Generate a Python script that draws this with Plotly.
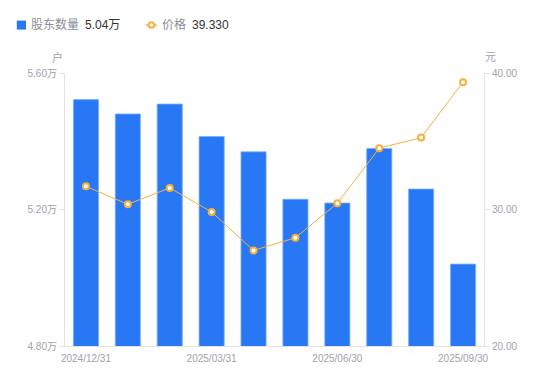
import plotly.graph_objects as go

dates = ["2024/12/31", "2025/01/31", "2025/02/28", "2025/03/31", "2025/04/30",
         "2025/05/31", "2025/06/30", "2025/07/31", "2025/08/31", "2025/09/30"]
holders = [5.522, 5.480, 5.509, 5.414, 5.369, 5.230, 5.219, 5.379, 5.260, 5.040]  # 万户
price = [31.70, 30.38, 31.58, 29.82, 27.00, 27.93, 30.46, 34.49, 35.27, 39.33]   # 元
xtick_labels = ["2024/12/31", "2025/03/31", "2025/06/30", "2025/09/30"]
left_ticks = [4.80, 5.20, 5.60]
right_ticks = [20, 30, 40]

BLUE = "#2878f5"
ORANGE = "#f7b03c"
GRAY = "#a0a1ae"
AXIS = "#e3e3e6"
FONT = "Liberation Sans, Noto Sans CJK SC, sans-serif"

# the page body adds an 8px offset; size the figure so the visible frame matches
OFF = 8
W, H = 550 - OFF, 381 - OFF
ML, MT = 65 - OFF, 73 - OFF
MR, MB = 66, 35
PW, PH = W - ML - MR, H - MT - MB


def px(x):
    return (x - OFF - ML) / PW


def py(y):
    return (H - MB - (y - OFF)) / PH


fig = go.Figure()
fig.add_trace(go.Bar(
    x=dates, y=holders, name="股东数量", width=0.6,
    marker=dict(color=BLUE, line=dict(color="#7eaef7", width=0.8)),
    yaxis="y", showlegend=False,
))
fig.add_trace(go.Scatter(
    x=dates, y=price, name="价格", mode="lines+markers",
    line=dict(color=ORANGE, width=1),
    marker=dict(symbol="circle", size=6, color="white", line=dict(color=ORANGE, width=2)),
    yaxis="y2", showlegend=False,
))

# custom legend
shapes = [
    dict(type="rect", xref="paper", yref="paper",
         x0=px(16.8), x1=px(26), y0=py(29.6), y1=py(20.6),
         fillcolor=BLUE, line=dict(width=0)),
    dict(type="line", xref="paper", yref="paper",
         x0=px(146), x1=px(156.7), y0=py(25), y1=py(25),
         line=dict(color=ORANGE, width=1.5)),
    dict(type="circle", xref="paper", yref="paper",
         x0=px(148.6), x1=px(154.2), y0=py(27.8), y1=py(22.2),
         fillcolor="white", line=dict(color=ORANGE, width=2)),
]

annotations = [
    dict(text="股东数量", x=px(30), y=py(25), xanchor="left", yanchor="middle",
         font=dict(size=12, color="#8c8d99")),
    dict(text="5.04万", x=px(84), y=py(25), xanchor="left", yanchor="middle",
         font=dict(size=12, color="#333333")),
    dict(text="价格", x=px(161), y=py(25), xanchor="left", yanchor="middle",
         font=dict(size=12, color="#8c8d99")),
    dict(text="39.330", x=px(191), y=py(25), xanchor="left", yanchor="middle",
         font=dict(size=12, color="#333333")),
    dict(text="户", x=px(57.5), y=py(57), xanchor="center", yanchor="middle",
         font=dict(size=11, color=GRAY)),
    dict(text="元", x=px(490.5), y=py(57.5), xanchor="center", yanchor="middle",
         font=dict(size=11, color=GRAY)),
]
for a in annotations:
    a.update(xref="paper", yref="paper", showarrow=False, borderpad=0)

fig.update_layout(
    width=W, height=H,
    margin=dict(l=ML, r=MR, t=MT, b=MB, pad=0),
    paper_bgcolor="white", plot_bgcolor="white",
    font=dict(family=FONT, size=10, color=GRAY),
    showlegend=False,
    bargap=0.4,
    xaxis=dict(
        type="category", tickmode="array", tickvals=xtick_labels, ticktext=xtick_labels,
        showgrid=False, showline=True, linecolor=AXIS, linewidth=1,
        ticks="", tickfont=dict(size=10, color=GRAY), zeroline=False,
        range=[-0.5, len(dates) - 0.5], ticklabelstandoff=3,
    ),
    yaxis=dict(
        range=[4.80, 5.60], tickmode="array", tickvals=left_ticks,
        ticktext=[f"{v:.2f}万" for v in left_ticks],
        showgrid=False, showline=True, linecolor=AXIS, linewidth=1,
        ticks="outside", ticklen=5, tickcolor=AXIS, zeroline=False,
        tickfont=dict(size=10, color=GRAY),
    ),
    yaxis2=dict(
        range=[20, 40], overlaying="y", side="right", tickmode="array",
        tickvals=right_ticks, ticktext=[f"{v:.2f}" for v in right_ticks],
        showgrid=False, showline=True, linecolor=AXIS, linewidth=1,
        ticks="outside", ticklen=5, tickcolor=AXIS, zeroline=False,
        tickfont=dict(size=10, color=GRAY),
    ),
    shapes=shapes,
    annotations=annotations,
)

fig.write_html("out.html")
